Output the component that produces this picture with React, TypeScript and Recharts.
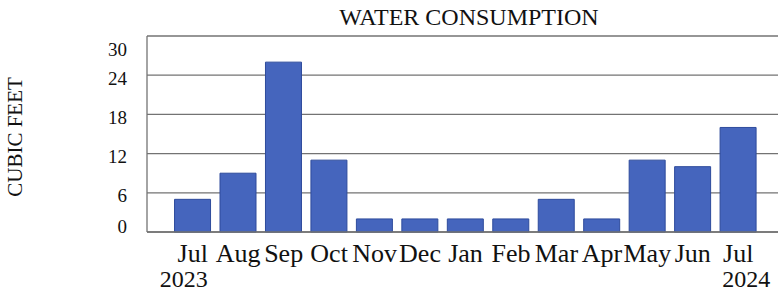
import { BarChart, Bar, XAxis, YAxis, CartesianGrid } from 'recharts';

const months = ['Jul', 'Aug', 'Sep', 'Oct', 'Nov', 'Dec', 'Jan', 'Feb', 'Mar', 'Apr', 'May', 'Jun', 'Jul'];
const years = ['2023', '', '', '', '', '', '', '', '', '', '', '', '2024'];
const cubicFeet = [5, 9, 26, 11, 2, 2, 2, 2, 5, 2, 11, 10, 16];
const yTicks = [0, 6, 12, 18, 24, 30];

const FONT = '"Liberation Serif", "Times New Roman", Times, serif';
const textStyle = { fontFamily: FONT };

const data = months.map((m, i) => ({ key: i, month: m, year: years[i], value: cubicFeet[i] }));

function MonthTick(props: any) {
  const { x, y, index } = props;
  const d = data[index];
  const last = index === data.length - 1;
  return (
    <g>
      <text x={x} y={y + 30} textAnchor="middle" fontSize={26} style={textStyle} fill="#111">
        {d.month}
      </text>
      {d.year && (
        <text
          x={last ? x - 16 : x + 15}
          y={y + 55}
          textAnchor={last ? 'start' : 'end'}
          fontSize={24}
          style={textStyle}
          fill="#111"
        >
          {d.year}
        </text>
      )}
    </g>
  );
}

function ValueTick(props: any) {
  const { x, y, payload } = props;
  // keep the end labels inside the frame, like the original
  const ty = Math.min(Math.max(y + 3, 49), 226);
  return (
    <text x={x} y={ty} dy="0.35em" textAnchor="end" fontSize={19} style={textStyle} fill="#111">
      {payload.value}
    </text>
  );
}

function AxisTitle() {
  return (
    <text
      x={22}
      y={137}
      transform="rotate(-90 22 137)"
      textAnchor="middle"
      fontSize={21}
      style={textStyle}
      fill="#111"
    >
      CUBIC FEET
    </text>
  );
}

export default function App() {
  return (
    <div style={{ position: 'absolute', left: 0, top: 0, width: 780, height: 292, background: '#fff' }}>
      <div
        style={{
          position: 'absolute',
          left: 169,
          top: 5,
          width: 600,
          textAlign: 'center',
          fontFamily: FONT,
          fontSize: 24,
          lineHeight: '24px',
          color: '#111',
        }}
      >
        WATER CONSUMPTION
      </div>
      <BarChart
        width={780}
        height={292}
        data={data}
        margin={{ top: 36, right: 2, bottom: 0, left: 87 }}
        barCategoryGap="10%"
      >
        <CartesianGrid vertical={false} stroke="#737373" strokeWidth={1.3} />
        <XAxis
          dataKey="key"
          height={60}
          interval={0}
          tickSize={0}
          tickMargin={0}
          tick={<MonthTick />}
          axisLine={{ stroke: '#737373', strokeWidth: 1.3 }}
          tickLine={false}
          padding={{ left: 23, right: 17 }}
        />
        <YAxis
          width={60}
          domain={[0, 30]}
          ticks={yTicks}
          interval={0}
          tickSize={0}
          tickMargin={20}
          tick={<ValueTick />}
          axisLine={{ stroke: '#737373', strokeWidth: 1.3 }}
          tickLine={false}
          label={{ content: <AxisTitle /> }}
        />
        <YAxis
          yAxisId="frame"
          orientation="right"
          width={0}
          domain={[0, 30]}
          tick={false}
          tickLine={false}
          axisLine={{ stroke: '#737373', strokeWidth: 1.3 }}
        />
        <Bar dataKey="value" fill="#4565bd" stroke="#2e4b9c" strokeWidth={1} isAnimationActive={false} />
      </BarChart>
    </div>
  );
}
